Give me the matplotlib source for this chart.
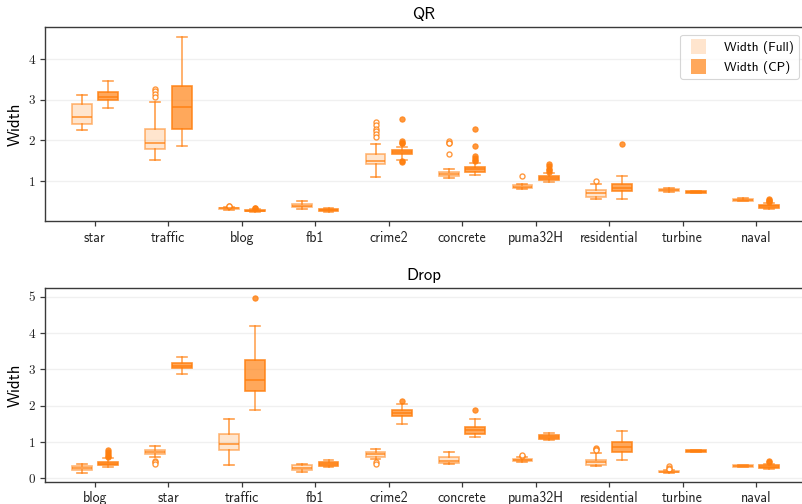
import matplotlib
matplotlib.use("Agg")
import matplotlib.pyplot as plt
from matplotlib.patches import Patch, Rectangle
from matplotlib.legend_handler import HandlerPatch

# ---------------- data ----------------
qr_categories = ["star", "traffic", "blog", "fb1", "crime2", "concrete",
                 "puma32H", "residential", "turbine", "naval"]
# Width (Full) under QR
qr_full_lo  = [2.25, 1.52, 0.29, 0.31, 1.10, 1.07, 0.80, 0.56, 0.74, 0.50]
qr_full_q1  = [2.40, 1.78, 0.31, 0.37, 1.41, 1.13, 0.83, 0.61, 0.75, 0.51]
qr_full_med = [2.58, 1.93, 0.33, 0.40, 1.49, 1.18, 0.86, 0.70, 0.78, 0.54]
qr_full_q3  = [2.90, 2.29, 0.345, 0.43, 1.67, 1.23, 0.90, 0.77, 0.81, 0.57]
qr_full_hi  = [3.13, 2.94, 0.37, 0.52, 1.92, 1.29, 0.94, 0.92, 0.82, 0.58]
qr_full_fl  = [[], [3.27, 3.22, 3.14, 3.08], [0.39, 0.40], [],
               [2.45, 2.38, 2.28, 2.23, 2.17, 2.08], [1.99, 1.95, 1.93, 1.66],
               [1.13], [1.00], [], []]
# Width (CP) under QR
qr_cp_lo  = [2.81, 1.86, 0.25, 0.24, 1.52, 1.15, 0.97, 0.57, 0.71, 0.31]
qr_cp_q1  = [2.99, 2.29, 0.265, 0.275, 1.66, 1.23, 1.03, 0.75, 0.72, 0.34]
qr_cp_med = [3.08, 2.82, 0.275, 0.29, 1.71, 1.29, 1.07, 0.83, 0.735, 0.38]
qr_cp_q3  = [3.18, 3.34, 0.29, 0.31, 1.76, 1.36, 1.12, 0.93, 0.75, 0.41]
qr_cp_hi  = [3.45, 4.55, 0.31, 0.35, 1.83, 1.45, 1.20, 1.12, 0.76, 0.46]
qr_cp_fl  = [[], [], [0.33, 0.34], [],
             [2.53, 1.99, 1.95, 1.94, 1.50, 1.48],
             [2.28, 1.87, 1.63, 1.58, 1.53, 1.49],
             [1.42, 1.38, 1.31, 1.27, 1.23], [1.91], [], [0.56, 0.53, 0.50, 0.48]]

drop_categories = ["blog", "star", "traffic", "fb1", "crime2", "concrete",
                   "puma32H", "residential", "turbine", "naval"]
# Width (Full) under Drop
drop_full_lo  = [0.15, 0.58, 0.36, 0.18, 0.53, 0.41, 0.46, 0.34, 0.14, 0.31]
drop_full_q1  = [0.22, 0.68, 0.77, 0.23, 0.60, 0.43, 0.48, 0.37, 0.165, 0.32]
drop_full_med = [0.28, 0.73, 0.94, 0.30, 0.66, 0.48, 0.51, 0.46, 0.18, 0.35]
drop_full_q3  = [0.33, 0.79, 1.21, 0.37, 0.72, 0.59, 0.54, 0.52, 0.20, 0.37]
drop_full_hi  = [0.39, 0.89, 1.64, 0.41, 0.80, 0.74, 0.58, 0.69, 0.23, 0.38]
drop_full_fl  = [[], [0.49, 0.44, 0.39], [], [], [0.44, 0.41], [],
                 [0.61, 0.64], [0.84, 0.81, 0.77], [0.34, 0.30, 0.27], []]
# Width (CP) under Drop
drop_cp_lo  = [0.31, 2.88, 1.87, 0.31, 1.50, 1.14, 1.05, 0.51, 0.72, 0.25]
drop_cp_q1  = [0.36, 3.03, 2.41, 0.33, 1.72, 1.22, 1.09, 0.73, 0.73, 0.28]
drop_cp_med = [0.41, 3.10, 2.70, 0.39, 1.81, 1.33, 1.14, 0.87, 0.75, 0.32]
drop_cp_q3  = [0.46, 3.18, 3.27, 0.44, 1.88, 1.42, 1.19, 0.99, 0.77, 0.36]
drop_cp_hi  = [0.55, 3.35, 4.18, 0.52, 2.04, 1.64, 1.24, 1.30, 0.78, 0.41]
drop_cp_fl  = [[0.77, 0.73, 0.67, 0.61, 0.58], [], [4.97], [], [2.14], [1.89],
               [], [], [], [0.48, 0.45]]

series_labels = ["Width (Full)", "Width (CP)"]
panel_titles = ["QR", "Drop"]

# ---------------- style ----------------
ORANGE = (1.0, 0.498, 0.055)
def rgba(a):
    return (*ORANGE, a)

SANS = "cmss10"
SERIF = "cmr10"
plt.rcParams["axes.formatter.use_mathtext"] = True

fig = plt.figure(figsize=(8.03, 5.04), dpi=100)
ax_top = fig.add_axes([45 / 803, 283 / 504, 1 - 45 / 803, 194 / 504])
ax_bot = fig.add_axes([45 / 803, 22.3 / 504, 1 - 45 / 803, 193.4 / 504])

OFFSET = 0.18
WIDTH = 0.27


def stats_list(lo, q1, med, q3, hi, fl):
    out = []
    for i in range(len(med)):
        out.append(dict(whislo=lo[i], q1=q1[i], med=med[i], q3=q3[i],
                        whishi=hi[i], fliers=fl[i]))
    return out


def draw_series(ax, stats, offset, full):
    pos = [i + offset for i in range(len(stats))]
    if full:
        face, edge, wcol, mcol = rgba(0.2), rgba(0.55), rgba(0.75), rgba(0.8)
        flier = dict(marker="o", markersize=3.6, markerfacecolor="white",
                     markeredgecolor=rgba(0.8), markeredgewidth=1.0)
    else:
        face, edge, wcol, mcol = rgba(0.68), rgba(0.85), rgba(0.7), rgba(0.85)
        flier = dict(marker="o", markersize=3.8, markerfacecolor=rgba(0.8),
                     markeredgecolor=rgba(0.8), markeredgewidth=0.8)
    ax.bxp(stats, positions=pos, widths=WIDTH, patch_artist=True,
           showfliers=True, manage_ticks=False,
           boxprops=dict(facecolor=face, edgecolor=edge, linewidth=1.2),
           whiskerprops=dict(color=wcol, linewidth=1.2),
           capprops=dict(color=wcol, linewidth=1.2),
           medianprops=dict(color=mcol, linewidth=1.2),
           flierprops=flier)


panels = [
    (ax_top, qr_categories,
     stats_list(qr_full_lo, qr_full_q1, qr_full_med, qr_full_q3, qr_full_hi, qr_full_fl),
     stats_list(qr_cp_lo, qr_cp_q1, qr_cp_med, qr_cp_q3, qr_cp_hi, qr_cp_fl),
     (0.02, 4.79), [1, 2, 3, 4]),
    (ax_bot, drop_categories,
     stats_list(drop_full_lo, drop_full_q1, drop_full_med, drop_full_q3, drop_full_hi, drop_full_fl),
     stats_list(drop_cp_lo, drop_cp_q1, drop_cp_med, drop_cp_q3, drop_cp_hi, drop_cp_fl),
     (-0.09, 5.23), [0, 1, 2, 3, 4, 5]),
]

for (ax, cats, full_stats, cp_stats, ylim, yticks), title in zip(panels, panel_titles):
    ax.set_axisbelow(True)
    ax.yaxis.grid(True, color="#f0f0f0", linewidth=1.0)
    draw_series(ax, full_stats, -OFFSET, True)
    draw_series(ax, cp_stats, OFFSET, False)
    ax.set_xlim(-0.68, 9.64)
    ax.set_ylim(*ylim)
    ax.set_xticks(range(len(cats)))
    ax.set_xticklabels(cats, fontfamily=SANS, fontsize=10)
    ax.set_yticks(yticks)
    ax.set_yticklabels([str(t) for t in yticks], fontfamily=SERIF, fontsize=9.5)
    ax.set_ylabel("Width", fontfamily=SANS, fontsize=12)
    ax.set_title(title, fontfamily=SANS, fontsize=12, pad=6)
    ax.spines["right"].set_visible(False)
    for s in ["left", "bottom", "top"]:
        ax.spines[s].set_color("#3a3a3a")
        ax.spines[s].set_linewidth(1.0)
    ax.tick_params(axis="both", direction="out", length=3.5, width=0.9,
                   color="#3a3a3a", labelcolor="#222222")

LEG_FS = 9.6
SQ = 1.125 * LEG_FS  # square handle size in points


def square_right(legend, orig_handle, xdescent, ydescent, width, height, fontsize):
    return Rectangle((-xdescent + width - SQ, -ydescent + (height - SQ) / 2), SQ, SQ)


handles = [Patch(facecolor=rgba(0.2), edgecolor="none"),
           Patch(facecolor=rgba(0.68), edgecolor="none")]
leg = ax_top.legend(handles, series_labels, loc="upper right",
                    prop=dict(family=SANS, size=LEG_FS), handlelength=1.57,
                    handleheight=1.125, handletextpad=1.3, borderpad=0.4,
                    labelspacing=0.42, borderaxespad=0.0,
                    handler_map={Patch: HandlerPatch(patch_func=square_right)},
                    frameon=True, fancybox=True, bbox_to_anchor=(0.9947, 0.960))
leg.get_frame().set_edgecolor("#cccccc")
leg.get_frame().set_linewidth(0.8)

fig.savefig("out.png", dpi=100)
